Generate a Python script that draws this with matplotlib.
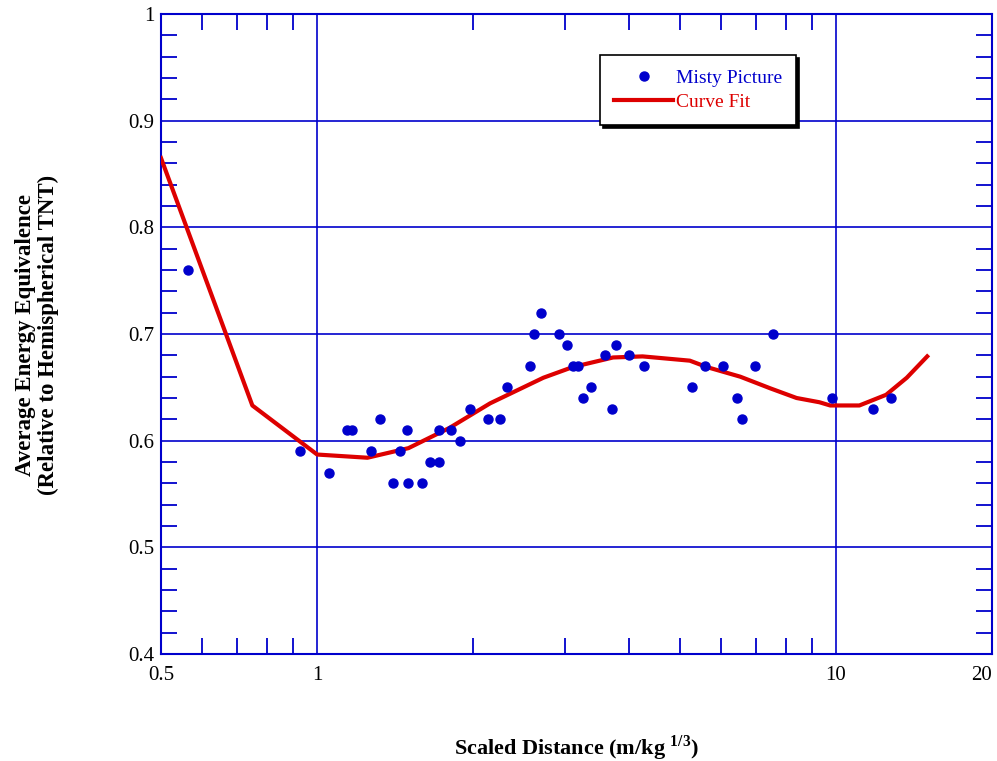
import numpy as np
import matplotlib
matplotlib.use("Agg")
import matplotlib.pyplot as plt
from matplotlib.ticker import FixedLocator, NullFormatter

plt.rcParams['font.family'] = ['Liberation Serif', 'DejaVu Serif']
plt.rcParams['mathtext.fontset'] = 'custom'
plt.rcParams['mathtext.rm'] = 'Liberation Serif'
plt.rcParams['mathtext.bf'] = 'Liberation Serif:bold'

# measured points (Misty Picture)
dist = [0.564, 0.927, 1.055, 1.142, 1.168, 1.27, 1.323, 1.401, 1.445, 1.49, 1.50,
        1.594, 1.65, 1.718, 1.718, 1.81, 1.886, 1.971, 2.135, 2.25, 2.32, 2.57,
        2.62, 2.70, 2.925, 3.03, 3.11, 3.18, 3.25, 3.37, 3.59, 3.70, 3.77, 3.99,
        4.26, 5.28, 5.59, 6.06, 6.45, 6.58, 6.98, 7.57, 9.83, 11.8, 12.8]
energy = [0.76, 0.59, 0.57, 0.61, 0.61, 0.59, 0.62, 0.56, 0.59, 0.61, 0.56,
          0.56, 0.58, 0.61, 0.58, 0.61, 0.60, 0.63, 0.62, 0.62, 0.65, 0.67,
          0.70, 0.72, 0.70, 0.69, 0.67, 0.67, 0.64, 0.65, 0.68, 0.63, 0.69, 0.68,
          0.67, 0.65, 0.67, 0.67, 0.64, 0.62, 0.67, 0.70, 0.64, 0.63, 0.64]

# curve fit
fit_x = [0.5, 0.75, 1.0, 1.25, 1.50, 1.80, 2.155, 2.73, 3.11, 3.72, 4.24, 5.23,
         5.64, 6.54, 7.48, 8.40, 9.3, 9.75, 11.1, 12.5, 13.7, 15.0]
fit_y = [0.865, 0.633, 0.587, 0.584, 0.593, 0.612, 0.635, 0.659, 0.669, 0.678,
         0.679, 0.675, 0.669, 0.660, 0.649, 0.640, 0.636, 0.633, 0.633, 0.643,
         0.659, 0.679]

xticks = [0.5, 1, 10, 20]
xlabels = ['0.5', '1', '10', '20']
yticks = [0.4, 0.5, 0.6, 0.7, 0.8, 0.9, 1.0]
ylabels = ['0.4', '0.5', '0.6', '0.7', '0.8', '0.9', '1']

blue = '#0000CC'
red = '#DD0000'

fig = plt.figure(figsize=(9.97, 7.61), dpi=100)
ax = fig.add_axes([161/997, 107/761, 831/997, 640/761])

ax.plot(dist, energy, 'o', color=blue, markersize=6.5, linestyle='none',
        label='Misty Picture', zorder=4)
ax.plot(fit_x, fit_y, color=red, linewidth=3, label='Curve Fit', zorder=3)

ax.set_xscale('log')
ax.set_xlim(0.5, 20)
ax.set_ylim(0.4, 1.0)

ax.xaxis.set_major_locator(FixedLocator(xticks))
ax.set_xticklabels(xlabels)
minor_x = [0.6, 0.7, 0.8, 0.9] + list(range(2, 10))
ax.xaxis.set_minor_locator(FixedLocator(minor_x))
ax.xaxis.set_minor_formatter(NullFormatter())
ax.set_yticks(yticks)
ax.set_yticklabels(ylabels)
ax.yaxis.set_minor_locator(FixedLocator(np.arange(0.42, 1.0, 0.02)))

ax.tick_params(which='both', direction='in', top=True, right=True,
               color=blue, width=1.3, labelsize=15)
ax.tick_params(which='major', length=0)
ax.tick_params(which='minor', length=11.5)
ax.tick_params(axis='x', pad=9)
ax.tick_params(axis='y', pad=5)
ax.get_xticklabels()[-1].set_horizontalalignment('right')

for sp in ax.spines.values():
    sp.set_color(blue)
    sp.set_linewidth(1.5)

ax.grid(True, which='major', color=blue, linewidth=1.2)
ax.set_axisbelow(True)

leg = ax.legend(loc='upper left', bbox_to_anchor=(0.528, 0.936), borderaxespad=0,
                fancybox=False, shadow={'color': 'black', 'alpha': 1},
                fontsize=14, handlelength=3.0, handletextpad=0.15,
                labelcolor=[blue, red], borderpad=0.75, labelspacing=0.3)
leg.get_frame().set_edgecolor('black')
leg.get_frame().set_linewidth(1.2)

fig.text(37/997, 1 - 335/761,
         'Average Energy Equivalence\n(Relative to Hemispherical TNT)',
         rotation=90, ha='center', va='center', ma='center',
         fontsize=16.5, fontweight='bold', linespacing=1.15)
fig.text(576/997, 1 - 748/761, r'Scaled Distance (m/kg ${}^{\mathbf{1/3}}$)',
         ha='center', va='center', fontsize=16, fontweight='bold')

fig.savefig('out.png', dpi=100)
